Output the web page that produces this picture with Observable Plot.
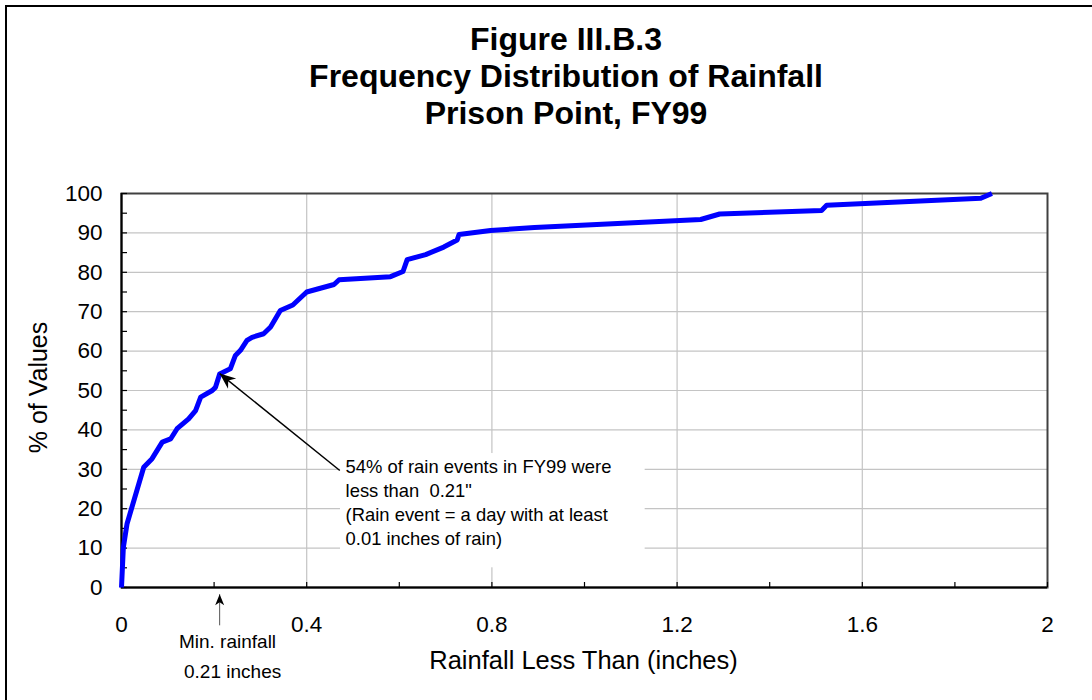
<!DOCTYPE html>
<html>
<head>
<meta charset="utf-8">
<script src="https://cdn.jsdelivr.net/npm/d3@7"></script>
<script src="https://cdn.jsdelivr.net/npm/@observablehq/plot@0.6"></script>
<style>
  html, body { margin: 0; padding: 0; background: #fff; overflow: hidden; }
  #wrap { position: relative; width: 1092px; height: 700px; font-family: "Liberation Sans", Arial, sans-serif; }
  #border { position: absolute; left: 5px; top: 5px; width: 1300px; height: 900px; border: 2.5px solid #000; box-sizing: border-box; pointer-events: none; }
  #title { box-sizing: border-box; width: 1092px; height: 150px; padding-left: 40px; padding-top: 21px; text-align: center; font-weight: bold; font-size: 32px; line-height: 37px; color: #000; }
  #chart svg { display: block; }
</style>
</head>
<body>
<div id="wrap">
  <div id="title"></div>
  <div id="chart"></div>
  <div id="border"></div>
</div>
<script>
// ---- Data ----
const titleLines = ["Figure III.B.3", "Frequency Distribution of Rainfall", "Prison Point, FY99"];

const rainfall = [0, 0.004, 0.012, 0.048, 0.066, 0.088, 0.106, 0.120, 0.145, 0.160, 0.171, 0.196, 0.203, 0.212,
  0.235, 0.246, 0.257, 0.271, 0.282, 0.307, 0.322, 0.343, 0.370, 0.400, 0.459, 0.470, 0.581, 0.608, 0.617,
  0.657, 0.696, 0.725, 0.729, 0.797, 0.892, 1.251, 1.292, 1.512, 1.523, 1.856, 1.880];
const percent = [0, 10.2, 16.2, 30.5, 32.7, 36.9, 37.7, 40.3, 42.8, 44.9, 48.3, 50.0, 50.8, 54.2,
  55.5, 58.9, 60.2, 62.7, 63.5, 64.4, 66.1, 70.3, 71.7, 75.0, 76.9, 78.1, 78.9, 80.2, 83.2,
  84.5, 86.4, 88.2, 89.6, 90.6, 91.4, 93.4, 94.8, 95.7, 97.0, 98.8, 100];

const xTickLabels = [0, 0.4, 0.8, 1.2, 1.6, 2];
const xMinorTicks = [0, 0.2, 0.4, 0.6, 0.8, 1.0, 1.2, 1.4, 1.6, 1.8, 2.0];
const yTickLabels = [0, 10, 20, 30, 40, 50, 60, 70, 80, 90, 100];
const yMinorTicks = [0, 5, 10, 15, 20, 25, 30, 35, 40, 45, 50, 55, 60, 65, 70, 75, 80, 85, 90, 95, 100];

const xLabel = "Rainfall Less Than (inches)";
const yLabel = "% of Values";

// annotations (in data units)
const noteLines = ["54% of rain events in FY99 were", "less than\u00a0 0.21\"", "(Rain event = a day with at least", "0.01 inches of rain)"];
const noteAnchor = [{x: 0.484, y: 21.8, text: noteLines.join("\n")}];
const noteBox = [{x1: 0.473, x2: 1.131, y1: 5, y2: 34}];
const noteArrow = [{x1: 0.4715, y1: 29.7, x2: 0.212, y2: 54.3}];
const minArrow = [{x1: 0.212, y1: -9.6, x2: 0.212, y2: -1.7}];
const minLabels = [{x: 0.229, y: -13.8, text: "Min. rainfall"}, {x: 0.240, y: -21.3, text: "0.21 inches"}];

// ---- Build ----
document.getElementById("title").innerHTML = titleLines.map(t => `<div>${t}</div>`).join("");

const curve = rainfall.map((x, i) => ({x, y: percent[i]}));

const W = 1092, H = 550, mT = 43, mB = 113, mL = 121, mR = 45;
const plotW = W - mL - mR, plotH = H - mT - mB;
const NS = "http://www.w3.org/2000/svg";

function headMarker(len, half, notch) {
  return (color, context) => {
    const doc = (context && context.document) || document;
    const m = doc.createElementNS(NS, "marker");
    m.setAttribute("viewBox", `${-len - 1} ${-half - 1} ${len + 2} ${2 * half + 2}`);
    m.setAttribute("markerWidth", len + 2);
    m.setAttribute("markerHeight", 2 * half + 2);
    m.setAttribute("markerUnits", "userSpaceOnUse");
    m.setAttribute("refX", 0);
    m.setAttribute("refY", 0);
    m.setAttribute("orient", "auto");
    const p = doc.createElementNS(NS, "path");
    p.setAttribute("d", `M0,0L${-len},${-half}L${-len + notch},0L${-len},${half}Z`);
    p.setAttribute("fill", "#000");
    p.setAttribute("stroke", "none");
    m.appendChild(p);
    return m;
  };
}

function build(bigHead, smallHead) {
  return Plot.plot({
    width: W, height: H,
    marginTop: mT, marginBottom: mB, marginLeft: mL, marginRight: mR,
    x: {domain: [0, 2]},
    y: {domain: [0, 100]},
    style: {fontFamily: '"Liberation Sans", Arial, sans-serif', fontSize: "22px", color: "#000", background: "#fff", overflow: "visible"},
    marks: [
      Plot.gridY(yTickLabels.filter(d => d > 0 && d < 100), {stroke: "#c4c4c4", strokeOpacity: 1, strokeWidth: 1.2}),
      Plot.gridX(xTickLabels.filter(d => d > 0 && d < 2), {stroke: "#c4c4c4", strokeOpacity: 1, strokeWidth: 1.2}),
      Plot.rect(noteBox, {x1: "x1", x2: "x2", y1: "y1", y2: "y2", fill: "#fff"}),
      Plot.frame({stroke: "#404040", strokeWidth: 2}),
      Plot.ruleX([0], {stroke: "#000", strokeWidth: 2}),
      Plot.ruleY([0], {stroke: "#000", strokeWidth: 2}),
      Plot.tickX(xMinorTicks, {x: d => d, stroke: "#000", strokeWidth: 1.2, insetTop: plotH - 5}),
      Plot.tickY(yMinorTicks, {y: d => d, stroke: "#000", strokeWidth: 1.2, insetRight: plotW - 6}),
      Plot.axisX(xTickLabels, {tickSize: 0, tickPadding: 29, fontSize: 22.5, label: null, tickFormat: d => `${d}`}),
      Plot.axisY(yTickLabels, {tickSize: 0, tickPadding: 19, fontSize: 22.5, label: null, tickFormat: d => `${d}`}),
      Plot.line(curve, {x: "x", y: "y", stroke: "#0000ff", strokeWidth: 5, strokeLinejoin: "round", strokeLinecap: "butt"}),
      Plot.link(noteArrow, {x1: "x1", y1: "y1", x2: "x2", y2: "y2", stroke: "#000", strokeWidth: 1.5, markerEnd: bigHead}),
      Plot.link(minArrow, {x1: "x1", y1: "y1", x2: "x2", y2: "y2", stroke: "#555", strokeWidth: 1, markerEnd: smallHead}),
      Plot.text(noteAnchor, {x: "x", y: "y", text: "text", textAnchor: "start", lineHeight: 1.3, fontSize: 18.4, fill: "#000"}),
      Plot.text(minLabels, {x: "x", y: "y", text: "text", fontSize: 19, fill: "#000"}),
      Plot.text([yLabel], {text: d => d, frameAnchor: "left", textAnchor: "middle", lineAnchor: "middle", dx: -83, dy: -3, rotate: -90, fontSize: 25, fill: "#000"}),
      Plot.text([xLabel], {text: d => d, frameAnchor: "bottom", textAnchor: "middle", lineAnchor: "middle", dy: 73, dx: -1, fontSize: 25.5, fill: "#000"})
    ]
  });
}

let chart;
try {
  chart = build(headMarker(16, 6.5, 5), headMarker(11, 4.5, 3));
} catch (e) {
  chart = build("arrow", "arrow");
}
document.getElementById("chart").appendChild(chart);
</script>
</body>
</html>
